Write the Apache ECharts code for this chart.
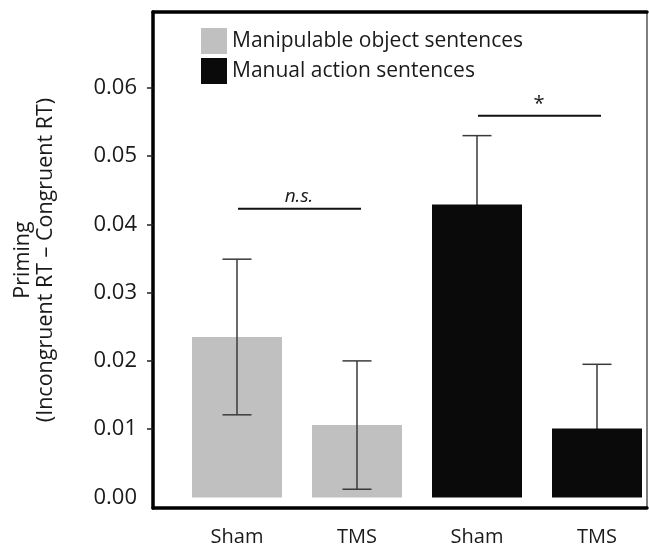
<!DOCTYPE html>
<html>
<head>
<meta charset="utf-8">
<script src="https://cdn.jsdelivr.net/npm/echarts@6/dist/echarts.min.js"></script>
<style>
html,body{margin:0;padding:0;background:#fff;}
#chart{width:649px;height:547px;}
</style>
</head>
<body>
<div id="chart"></div>
<script>
// ---- data ----
var categories = ['Sham', 'TMS', 'Sham', 'TMS'];
var positions = [1, 2, 3, 4];
var seriesNames = ['Manipulable object sentences', 'Manual action sentences'];
var objectValues = [0.0235, 0.0106];   // gray bars (Sham, TMS)
var objectErrors = [0.0114, 0.0094];
var actionValues = [0.0429, 0.0101];   // black bars (Sham, TMS)
var actionErrors = [0.0101, 0.0094];
var yTickValues = [0, 0.01, 0.02, 0.03, 0.04, 0.05, 0.06];
var sigLabels = ['n.s.', '*'];
var sigPairs = [[1, 2], [3, 4]];
var sigLevels = [0.0423, 0.0559];

var FONT = '"Open Sans", "Noto Sans", sans-serif';
var TXT = '#1a1a1a';

var objPos = positions.slice(0, 2), actPos = positions.slice(2, 4);
function barData(pos, vals) { return pos.map(function (p, i) { return [p, vals[i]]; }); }
function errData(pos, vals, errs) { return pos.map(function (p, i) { return [p, vals[i] - errs[i], vals[i] + errs[i]]; }); }

function renderErr(params, api) {
  var x = api.value(0);
  var lo = api.coord([x, api.value(1)]);
  var hi = api.coord([x, api.value(2)]);
  var hw = 14.5;
  var st = { stroke: '#3a3a3a', lineWidth: 1.5 };
  return {
    type: 'group',
    children: [
      { type: 'line', shape: { x1: lo[0], y1: lo[1], x2: hi[0], y2: hi[1] }, style: st },
      { type: 'line', shape: { x1: hi[0] - hw, y1: hi[1], x2: hi[0] + hw, y2: hi[1] }, style: st },
      { type: 'line', shape: { x1: lo[0] - hw, y1: lo[1], x2: lo[0] + hw, y2: lo[1] }, style: st }
    ]
  };
}

var sigData = sigPairs.map(function (p, i) { return [p[0], p[1], sigLevels[i], i]; });
function renderSig(params, api) {
  var a = api.coord([api.value(0), api.value(2)]);
  var b = api.coord([api.value(1), api.value(2)]);
  var label = sigLabels[api.value(3)];
  return {
    type: 'group',
    children: [
      { type: 'line', shape: { x1: a[0] + 1, y1: a[1], x2: b[0] + 4, y2: b[1] }, style: { stroke: '#111', lineWidth: 2 } },
      { type: 'text', x: (a[0] + b[0]) / 2 + 2, y: a[1] - 12,
        style: { text: label, font: (label === '*' ? 'normal 20px ' : 'italic 19px ') + FONT,
                 fill: TXT, align: 'center', verticalAlign: 'middle' } }
    ]
  };
}

var chart = echarts.init(document.getElementById('chart'), null, { renderer: 'canvas' });
chart.setOption({
  animation: false,
  backgroundColor: '#fff',
  grid: { left: 153, right: 2, top: 12, bottom: 38, show: true, borderColor: '#555', borderWidth: 1.5, backgroundColor: 'transparent' },
  legend: {
    orient: 'vertical', left: 196, top: 23, itemWidth: 26, itemHeight: 26, itemGap: 4,
    icon: 'rect',
    textStyle: { fontFamily: FONT, fontSize: 21, color: TXT, padding: [0, 0, 0, 0] },
    data: seriesNames
  },
  xAxis: [{
    type: 'value', min: 0.3, max: 4.4167,
    axisLine: { show: true, onZero: false, lineStyle: { color: '#000', width: 3.5 } },
    axisTick: { show: false },
    splitLine: { show: false },
    axisLabel: {
      customValues: positions, margin: 19,
      formatter: function (v) { var i = positions.indexOf(v); return i >= 0 ? categories[i] : ''; },
      fontFamily: FONT, fontSize: 20, color: TXT
    }
  }, {
    type: 'value', position: 'top', min: 0.3, max: 4.4167,
    axisLine: { show: true, onZero: false, lineStyle: { color: '#000', width: 3.5 } },
    axisTick: { show: false }, axisLabel: { show: false }, splitLine: { show: false }
  }],
  yAxis: {
    type: 'value', min: -0.00155, max: 0.07111,
    name: 'Priming\n(Incongruent RT \u2013 Congruent RT)',
    nameLocation: 'middle', nameRotate: 90, nameGap: 96,
    nameTextStyle: { fontFamily: FONT, fontSize: 21.5, color: TXT, lineHeight: 23 },
    axisLine: { show: true, onZero: false, lineStyle: { color: '#000', width: 3.5 } },
    axisTick: { show: true, length: 6, customValues: yTickValues.slice(1), lineStyle: { color: '#222', width: 1.5 } },
    axisLabel: {
      customValues: yTickValues, margin: 16,
      formatter: function (v) { return v.toFixed(2); },
      fontFamily: FONT, fontSize: 22, color: TXT
    },
    splitLine: { show: false }
  },
  series: [
    {
      name: seriesNames[0], type: 'bar', barWidth: 90, barGap: '-100%',
      itemStyle: { color: '#c0c0c0' }, data: barData(objPos, objectValues), z: 2
    },
    {
      name: seriesNames[1], type: 'bar', barWidth: 90, barGap: '-100%',
      itemStyle: { color: '#0a0a0a' }, data: barData(actPos, actionValues), z: 2
    },
    { type: 'custom', renderItem: renderErr, data: errData(objPos, objectValues, objectErrors), z: 3, silent: true },
    { type: 'custom', renderItem: renderErr, data: errData(actPos, actionValues, actionErrors), z: 1, silent: true },
    { type: 'custom', renderItem: renderSig, data: sigData, z: 4, silent: true }
  ]
});
</script>
</body>
</html>
